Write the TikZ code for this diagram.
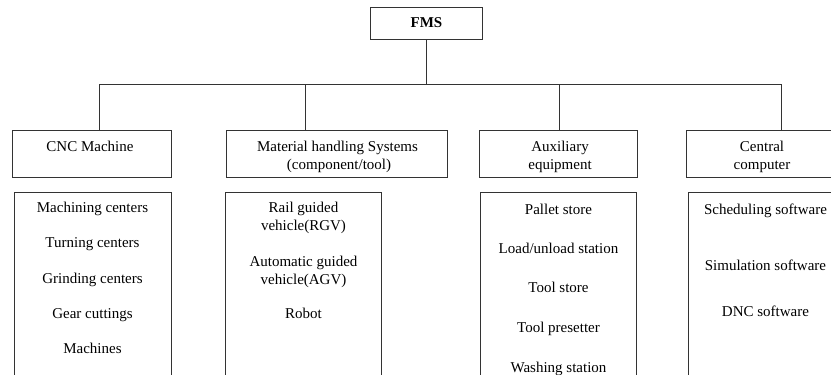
\documentclass[tikz,border=0pt]{standalone}
\usepackage{fontspec}
\setmainfont{Liberation Serif}
\usepackage{tikz}

\begin{document}
\begin{tikzpicture}[x=1pt,y=-1pt,line width=0.7pt,font=\fontsize{15}{18}\selectfont]
    \tikzstyle{group}=[draw=black!80, rectangle, minimum height=47pt, inner sep=0pt]
    \tikzstyle{list}=[draw=black!80, rectangle, anchor=north, minimum height=220pt, inner sep=0pt]
    \tikzstyle{item}=[inner sep=0pt, text height=10pt, text depth=3pt]
    \useasboundingbox (0,0) rectangle (831,375);
    \clip (0,0) rectangle (831,375);

    \node [group, minimum width=112pt, minimum height=32pt, font=\fontsize{15}{18}\selectfont\bfseries] (fms) at (426.5,23) {FMS};

    \coordinate (j1) at (99,84);
    \coordinate (j2) at (305.7,84);
    \coordinate (j3) at (559.7,84);
    \coordinate (j4) at (781,84);

    % second row
    \node [group, minimum width=158.7pt] (cnc) at (91.7,153.5) {};
    \node [group, minimum width=221pt] (mhs) at (337.2,153.5) {};
    \node [group, minimum width=158pt] (aux) at (558.7,153.5) {};
    \node [group, minimum width=158pt] (cc) at (765.3,153.5) {};

    \node [item] (cncA) at (90,148) {CNC Machine};
    \node [item] (mhsA) at (337.5,148) {Material handling Systems};
    \node [item] (mhsB) at (339,166) {(component/tool)};
    \node [item] (auxA) at (560,148) {Auxiliary};
    \node [item] (auxB) at (560,166) {equipment};
    \node [item] (ccA) at (762,148) {Central};
    \node [item] (ccB) at (762,166) {computer};

    % lists
    \node [list, minimum width=157pt] (cncL) at (92.5,191.7) {};
    \node [list, minimum width=155.3pt] (mhsL) at (303.3,191.7) {};
    \node [list, minimum width=156pt] (auxL) at (558.7,191.7) {};
    \node [list, minimum width=156pt] (ccL) at (766.7,191.7) {};

    \node [item] (cnc1) at (92.5,209) {Machining centers};
    \node [item] (cnc2) at (92.5,244.3) {Turning centers};
    \node [item] (cnc3) at (92.5,279.7) {Grinding centers};
    \node [item] (cnc4) at (92.5,315) {Gear cuttings};
    \node [item] (cnc5) at (92.5,350.3) {Machines};

    \node [item] (mhs1) at (303.5,208.5) {Rail guided};
    \node [item] (mhs2) at (303.5,227.2) {vehicle(RGV)};
    \node [item] (mhs3) at (303.5,262.5) {Automatic guided};
    \node [item] (mhs4) at (303.5,281) {vehicle(AGV)};
    \node [item] (mhs5) at (303.5,315) {Robot};

    \node [item] (aux1) at (558.5,210.5) {Pallet store};
    \node [item] (aux2) at (558.5,249.8) {Load/unload station};
    \node [item] (aux3) at (558.5,288.8) {Tool store};
    \node [item] (aux4) at (558.5,328.8) {Tool presetter};
    \node [item] (aux5) at (558.5,368.5) {Washing station};

    \node [item] (cc1) at (765.5,210.8) {Scheduling software};
    \node [item] (cc2) at (765.5,266.5) {Simulation software};
    \node [item] (cc3) at (765.5,312.5) {DNC software};

    \draw [draw=black!80] (fms.south) -- (fms.south |- j1);
    \draw [draw=black!80] (j1) -- (j4);
    \draw [draw=black!80] (j1) -- (j1 |- cnc.north);
    \draw [draw=black!80] (j2) -- (j2 |- mhs.north);
    \draw [draw=black!80] (j3) -- (j3 |- aux.north);
    \draw [draw=black!80] (j4) -- (j4 |- cc.north);
\end{tikzpicture}
\end{document}
